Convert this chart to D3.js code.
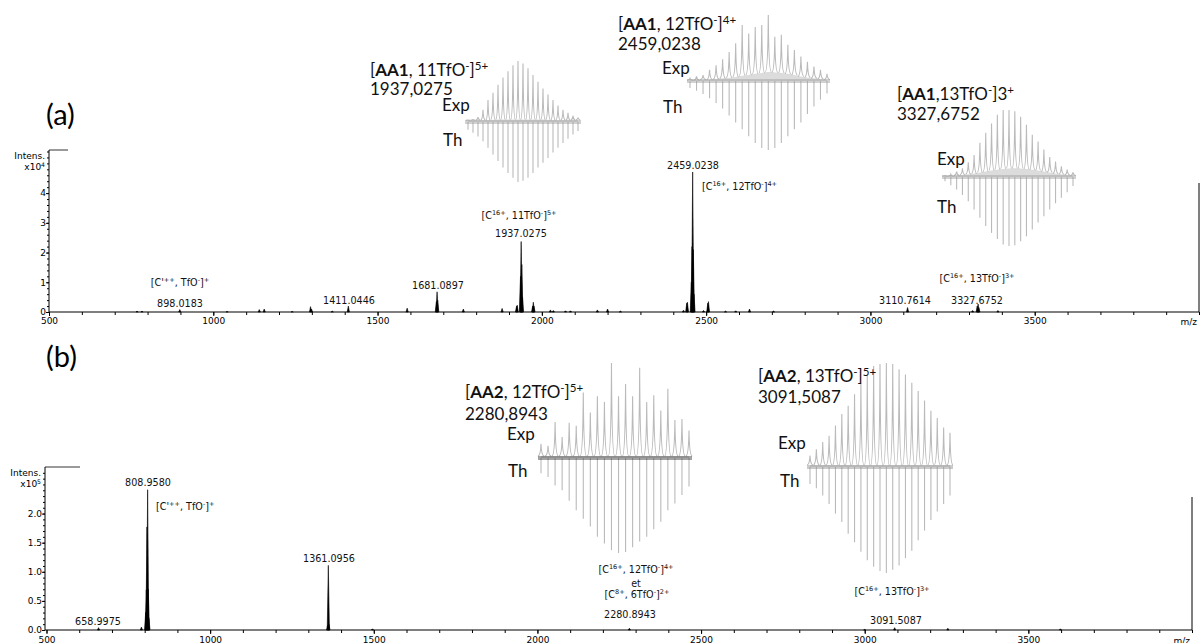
<!DOCTYPE html>
<html><head><meta charset="utf-8">
<script src="https://cdn.jsdelivr.net/npm/d3@7"></script>
<style>body{margin:0;background:#fff}svg{display:block}</style>
</head><body>
<svg id="c" width="1201" height="643"></svg>
<script>
// ---------------- DATA ----------------
const xTickValues = [500, 1000, 1500, 2000, 2500, 3000, 3500];
const topYTicks = [0, 1, 2, 3, 4];          // x10^4
const botYTicks = [0.0, 0.5, 1.0, 1.5, 2.0]; // x10^5

// panel (a) peaks: [m/z, intensity x1e4]
const topPeaks = [
  [768,0.03],[783,0.03],[898.0,0.08],[1042,0.02],[1140,0.08],[1155,0.1],[1240,0.02],
  [1296,0.18],[1299,0.1],[1362,0.03],[1411.0,0.2],[1590,0.13],[1679,0.35],[1681.1,0.68],
  [1683,0.4],[1761,0.1],[1879,0.12],[1923,0.2],[1925,0.23],[1935,1.2],[1937.0,2.37],
  [1939,1.6],[1941,0.5],[1972,0.2],[1974,0.33],[1976,0.2],[2026,0.07],[2035,0.05],
  [2072,0.04],[2087,0.04],[2169,0.07],[2200,0.1],[2239,0.03],[2431,0.06],[2441,0.3],
  [2443,0.33],[2455,1.0],[2457,2.2],[2459.0,4.71],[2461,2.1],[2463,0.6],[2492,0.05],
  [2505,0.3],[2507,0.35],[2559,0.03],[2590,0.04],[2632,0.1],[2705,0.03],[3113,0.15],
  [3311,0.05],[3325,0.2],[3327.7,0.27],[3330,0.15],[3388,0.05]
];
// panel (b) peaks: [m/z, intensity x1e5]
const botPeaks = [
  [659,0.04],[790,0.05],[803,0.3],[805,0.69],[807,1.77],[809.0,2.41],[811,0.7],[813,0.2],
  [1359,0.08],[1361.1,1.11],[1363,0.1],[1496,0.02],[2281,0.03],[3000,0.01],[3091.5,0.04],
  [3254,0.03],[3598,0.02]
];

// annotation texts
const topAnnotTexts = ["[C'^{++}, TfO^{-}]^{+}", "898.0183", "1411.0446", "1681.0897",
  "[C^{16+}, 11TfO^{-}]^{5+}", "1937.0275", "2459.0238", "[C^{16+}, 12TfO^{-}]^{4+}",
  "3110.7614", "3327.6752", "[C^{16+}, 13TfO^{-}]^{3+}"];
const botAnnotTexts = ["808.9580", "[C'^{++}, TfO^{-}]^{+}", "1361.0956", "658.9975",
  "[C^{16+}, 12TfO^{-}]^{4+}", "et", "[C^{8+}, 6TfO^{-}]^{2+}", "2280.8943",
  "[C^{16+}, 13TfO^{-}]^{3+}", "3091.5087"];

// insets: isotope patterns (relative %), Exp above / Th below
const inset1Exp = [3,4,8,20,36,48,61,73,83,93,100,96,88,77,66,55,45,36,27,20,15,10,7];
const inset1Th  = [13,18,24,32,43,54,65,76,85,93,100,98,93,85,76,68,60,51,43,35,28,21,15];
const inset1Hump= [3,3,3,3,3,4,4,4,4,4,4,4,4,4,4,4,4,3,3,3,3,3,3];
const inset2Exp = [4,7,9,17,24,33,44,57,85,72,82,85,100,67,70,55,47,37,29,22,17,11];
const inset2Th  = [10,14,19,25,32,40,50,60,70,80,90,97,100,97,90,80,70,60,48,37,27,18];
const inset2Hump= [1,1,2,2,3,4,5,6,8,9,11,12,14,13,12,11,9,7,5,4,3,2];
const inset3Exp = [2,4,8,13,22,33,51,66,80,93,100,100,98,90,78,63,53,41,30,23,16,11,7];
const inset3Th  = [6,12,18,26,35,47,59,71,81,90,98,100,99,93,86,76,66,57,47,38,30,22,13];
const inset3Hump= [1,1,2,3,4,5,7,8,10,11,12,13,13,13,12,11,10,8,7,5,4,3,2];
const inset4Exp = [15,13,38,22,37,34,69,48,65,59,100,65,78,65,95,59,66,50,73,40,41,29];
const inset4Th  = [16,20,29,34,45,55,64,72,83,90,97,100,99,94,88,83,75,67,55,48,39,30];
const inset4Hump= [2,2,2,2,2,2,2,2,2,2,2,2,2,2,2,2,2,2,2,2,2,2];
const inset5Exp = [11,17,24,30,40,51,59,70,80,89,97,99,100,99,94,89,81,73,64,54,47,38,33];
const inset5Th  = [16,20,27,35,44,52,63,71,80,88,94,98,100,97,93,86,79,69,60,50,42,35,27];
const inset5Hump= [2,2,2,2,2,2,2,2,2,2,2,2,2,2,2,2,2,2,2,2,2,2,2];

const insetTitles = ["[**AA1**, 11TfO^{-}]^{5+}", "[**AA1**, 12TfO^{-}]^{4+}", "[**AA1**,13TfO^{-}]3^{+}",
                     "[**AA2**, 12TfO^{-}]^{5+}", "[**AA2**, 13TfO^{-}]^{5+}"];
const insetMasses = ["1937,0275", "2459,0238", "3327,6752", "2280,8943", "3091,5087"];

// ---------------- LAYOUT ----------------
const svg = d3.select("#c");
const AX_FONT = "DejaVu Sans";
const TXT_FONT = "Lato, 'Open Sans', sans-serif";

function rich(sel, markup, fs) {
  const re = /(\*\*[^*]+\*\*|\^\{[^}]+\})/g;
  const parts = markup.split(re).filter(s => s.length);
  let shifted = false;
  parts.forEach(p => {
    let t;
    if (p.startsWith("**")) {
      t = sel.append("tspan").attr("font-weight", "bold").text(p.slice(2, -2));
      if (shifted) { t.attr("dy", fs * 0.38); shifted = false; }
    } else if (p.startsWith("^{")) {
      t = sel.append("tspan").attr("font-size", fs * 0.68).text(p.slice(2, -1));
      if (!shifted) { t.attr("dy", -fs * 0.38); shifted = true; }
    } else {
      t = sel.append("tspan").text(p);
      if (shifted) { t.attr("dy", fs * 0.38); shifted = false; }
    }
  });
}

function panel(cfg) {
  const g = svg.append("g");
  const x = d3.scaleLinear().domain([500, 4000]).range(cfg.xRange);
  const y = d3.scaleLinear().domain([0, cfg.yMax]).range([cfg.y0, cfg.yTop]);

  g.append("g").attr("transform", `translate(0,${cfg.y0})`)
    .call(d3.axisBottom(x).tickValues(d3.range(500, 4001, 100)).tickSize(3).tickFormat(""))
    .call(s => s.select(".domain").remove());
  g.append("g").attr("transform", `translate(0,${cfg.y0})`)
    .call(d3.axisBottom(x).tickValues(xTickValues).tickSize(4).tickPadding(cfg.xPad).tickFormat(d3.format("d")))
    .call(s => s.select(".domain").remove())
    .call(s => s.selectAll("text").attr("font-family", AX_FONT).attr("font-size", 9).attr("fill", "#000"));
  g.append("g").attr("transform", `translate(${cfg.yAxisX},0)`)
    .call(d3.axisLeft(y).tickValues(d3.range(0, cfg.yMax, cfg.yMinor)).tickSize(2).tickFormat(""))
    .call(s => s.select(".domain").remove());
  g.append("g").attr("transform", `translate(${cfg.yAxisX},0)`)
    .call(d3.axisLeft(y).tickValues(cfg.yTicks).tickSize(3).tickPadding(0).tickFormat(cfg.yFmt))
    .call(s => s.select(".domain").remove())
    .call(s => s.selectAll("text").attr("font-family", AX_FONT).attr("font-size", 9).attr("fill", "#000"));

  g.append("line").attr("x1", cfg.yAxisX).attr("x2", cfg.xRange[1]).attr("y1", cfg.y0).attr("y2", cfg.y0)
    .attr("stroke", "#000").attr("stroke-width", 1.2);
  g.append("line").attr("x1", cfg.yAxisX).attr("x2", cfg.yAxisX).attr("y1", cfg.y0).attr("y2", cfg.yTop)
    .attr("stroke", "#000");
  g.append("line").attr("x1", cfg.yAxisX).attr("x2", cfg.boxRight).attr("y1", cfg.yTop).attr("y2", cfg.yTop)
    .attr("stroke", "#000").attr("stroke-width", 0.8);
  g.append("line").attr("x1", cfg.xRange[1]).attr("x2", cfg.xRange[1]).attr("y1", cfg.y0).attr("y2", cfg.rightTop)
    .attr("stroke", "#000");

  const hw = 1.1;
  g.append("g").selectAll("path").data(cfg.peaks).join("path")
    .attr("d", d => `M${x(d[0]) - hw},${y(0)}L${x(d[0])},${y(d[1])}L${x(d[0]) + hw},${y(0)}Z`)
    .attr("fill", "#000").attr("stroke", "#000").attr("stroke-width", 0.6);

  g.append("text").attr("x", cfg.yAxisX - 4).attr("y", cfg.yTop + 9).attr("text-anchor", "end")
    .attr("font-family", AX_FONT).attr("font-size", 9).text("Intens.");
  const xl = g.append("text").attr("x", cfg.yAxisX - 4).attr("y", cfg.yTop + 20).attr("text-anchor", "end")
    .attr("font-family", AX_FONT).attr("font-size", 9);
  rich(xl, cfg.expLabel, 9);
  g.append("text").attr("x", cfg.xRange[1] - 2).attr("y", cfg.y0 + cfg.mzDy).attr("text-anchor", "end")
    .attr("font-family", AX_FONT).attr("font-size", 9).text("m/z");

  cfg.annots.forEach((t, i) => {
    const p = cfg.annotPos[i];
    const el = g.append("text").attr("x", p[0]).attr("y", p[1]).attr("text-anchor", p[2] || "middle")
      .attr("font-family", AX_FONT).attr("font-size", 9.6).attr("fill", "#111");
    rich(el, t, 9.6);
  });
  return {x, y};
}

panel({
  xRange: [49, 1199], yAxisX: 49, y0: 312, yTop: 150, yMax: 5.45, yMinor: 0.2,
  yTicks: topYTicks, yFmt: d3.format("d"), xPad: 2, boxRight: 68, rightTop: 183, mzDy: 13,
  peaks: topPeaks, expLabel: "x10^{4}",
  annots: topAnnotTexts,
  annotPos: [[180,286],[180,307],[349,304],[438,289],[519,219],[521,237],[693,169],[702,190,"start"],
             [905,304],[977,304],[977,282]]
});
panel({
  xRange: [46.5, 1192], yAxisX: 45, y0: 630, yTop: 467, yMax: 2.8, yMinor: 0.1,
  yTicks: botYTicks, yFmt: d3.format(".1f"), xPad: 3, boxRight: 80, rightTop: 497, mzDy: 14,
  peaks: botPeaks, expLabel: "x10^{5}",
  annots: botAnnotTexts,
  annotPos: [[148,486],[156,510,"start"],[329,562],[98,625],[636,573],[636,587],[637,598],[630,618],
             [892,595],[896,624]]
});

svg.append("text").attr("x", 46).attr("y", 125).attr("font-family", TXT_FONT).attr("font-size", 29).text("(a)");
svg.append("text").attr("x", 46).attr("y", 367).attr("font-family", TXT_FONT).attr("font-size", 29).text("(b)");

const insets = [
  {exp: inset1Exp, th: inset1Th, hump: inset1Hump, x0: 468, x1: 578, base: 122, hE: 61, hT: 60,
   title: [370, 76], mass: [370, 95], expL: [442, 111], thL: [443, 146], base2: "#9a9a9a"},
  {exp: inset2Exp, th: inset2Th, hump: inset2Hump, x0: 690, x1: 827, base: 81, hE: 66, hT: 69,
   title: [618, 30], mass: [618, 50], expL: [662, 74], thL: [663, 113], base2: "#9a9a9a"},
  {exp: inset3Exp, th: inset3Th, hump: inset3Hump, x0: 945, x1: 1073, base: 177, hE: 67, hT: 69,
   title: [897, 100], mass: [897, 120], expL: [937, 165], thL: [937, 213], base2: "#9a9a9a"},
  {exp: inset4Exp, th: inset4Th, hump: inset4Hump, x0: 541, x1: 689, base: 458, hE: 95, hT: 95,
   title: [465, 398], mass: [465, 420], expL: [507, 440], thL: [508, 477], base2: "#333"},
  {exp: inset5Exp, th: inset5Th, hump: inset5Hump, x0: 810, x1: 950, base: 467, hE: 104, hT: 106,
   title: [758, 382], mass: [758, 403], expL: [778, 449], thL: [780, 487], base2: "#8a8a8a"}
];

insets.forEach((ins, k) => {
  const g = svg.append("g");
  const n = ins.exp.length;
  const xi = d3.scaleLinear().domain([0, n - 1]).range([ins.x0, ins.x1]);
  const yE = d3.scaleLinear().domain([0, 100]).range([ins.base, ins.base - ins.hE]);
  const yT = d3.scaleLinear().domain([0, 100]).range([ins.base, ins.base + ins.hT]);
  const col = "#bababa";
  g.append("path").datum(ins.hump)
    .attr("d", d3.area().x((d, i) => xi(i)).y0(ins.base).y1(d => yE(d)).curve(d3.curveBasis))
    .attr("fill", "#dcdcdc").attr("stroke", "none");
  g.append("g").selectAll("line").data(ins.th).join("line")
    .attr("x1", (d, i) => xi(i)).attr("x2", (d, i) => xi(i))
    .attr("y1", ins.base).attr("y2", d => yT(d))
    .attr("stroke", col).attr("stroke-width", 1.1);
  const w = (ins.x1 - ins.x0) / (n - 1) * 0.45;
  g.append("g").selectAll("path").data(ins.exp).join("path")
    .attr("d", (d, i) => {
      const cx = xi(i), yb = yE(ins.hump[i]), yt = yE(d);
      return `M${cx - w},${yb}Q${cx - 0.4},${yb - 0.5} ${cx},${yt}Q${cx + 0.4},${yb - 0.5} ${cx + w},${yb}`;
    })
    .attr("fill", "none").attr("stroke", col).attr("stroke-width", 1.1);
  [-1, 1].forEach(o => g.append("line").attr("x1", ins.x0 - 3).attr("x2", ins.x1 + 3)
    .attr("y1", ins.base + o).attr("y2", ins.base + o).attr("stroke", ins.base2).attr("stroke-width", 0.9));

  const fs = 17;
  const t = g.append("text").attr("x", ins.title[0]).attr("y", ins.title[1])
    .attr("font-family", TXT_FONT).attr("font-size", fs).attr("fill", "#111");
  rich(t, insetTitles[k], fs);
  g.append("text").attr("x", ins.mass[0]).attr("y", ins.mass[1])
    .attr("font-family", TXT_FONT).attr("font-size", fs).attr("fill", "#111").text(insetMasses[k]);
  g.append("text").attr("x", ins.expL[0]).attr("y", ins.expL[1])
    .attr("font-family", TXT_FONT).attr("font-size", fs).attr("fill", "#111").text("Exp");
  g.append("text").attr("x", ins.thL[0]).attr("y", ins.thL[1])
    .attr("font-family", TXT_FONT).attr("font-size", fs).attr("fill", "#111").text("Th");
});
</script>
</body></html>
